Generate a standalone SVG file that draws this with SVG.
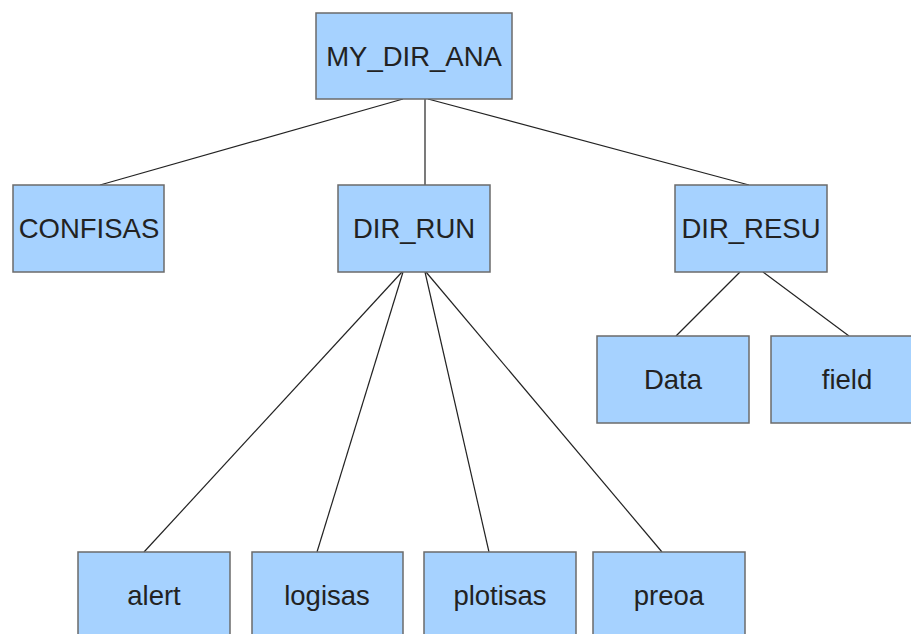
<svg xmlns="http://www.w3.org/2000/svg" width="911" height="634" viewBox="0 0 911 634">
<style>
.box{fill:#a6d2ff;stroke:#6b6b6b;stroke-width:1.5}
.lbl{font-family:"Liberation Sans",Arial,sans-serif;font-size:27.5px;fill:#222;text-anchor:middle}
.con{stroke:#222;stroke-width:1.2;fill:none}
</style>
<rect width="911" height="634" fill="#fff"/>
<g id="connectors">
<line class="con" x1="403" y1="99" x2="100" y2="185"/>
<line class="con" x1="425" y1="99" x2="425" y2="185"/>
<line class="con" x1="428" y1="99" x2="749" y2="185"/>
<line class="con" x1="402" y1="272" x2="144" y2="552"/>
<line class="con" x1="403" y1="272" x2="317" y2="552"/>
<line class="con" x1="425" y1="272" x2="489" y2="552"/>
<line class="con" x1="426" y1="272" x2="662" y2="552"/>
<line class="con" x1="740" y1="272" x2="676" y2="336"/>
<line class="con" x1="763" y1="272" x2="849" y2="336"/>
</g>
<g id="n-my_dir_ana"><rect class="box" x="316" y="13" width="196" height="86"/><text class="lbl" x="414" y="66">MY_DIR_ANA</text></g>
<g id="n-confisas"><rect class="box" x="13" y="185" width="151" height="87"/><text class="lbl" x="89" y="238">CONFISAS</text></g>
<g id="n-dir_run"><rect class="box" x="338" y="185" width="152" height="87"/><text class="lbl" x="414" y="238">DIR_RUN</text></g>
<g id="n-dir_resu"><rect class="box" x="675" y="185" width="152" height="87"/><text class="lbl" x="751" y="238">DIR_RESU</text></g>
<g id="n-data"><rect class="box" x="597" y="336" width="152" height="87"/><text class="lbl" x="673" y="389">Data</text></g>
<g id="n-field"><rect class="box" x="771" y="336" width="152" height="87"/><text class="lbl" x="847" y="389">field</text></g>
<g id="n-alert"><rect class="box" x="78" y="552" width="152" height="87"/><text class="lbl" x="154" y="605">alert</text></g>
<g id="n-logisas"><rect class="box" x="252" y="552" width="151" height="87"/><text class="lbl" x="327" y="605">logisas</text></g>
<g id="n-plotisas"><rect class="box" x="424" y="552" width="152" height="87"/><text class="lbl" x="500" y="605">plotisas</text></g>
<g id="n-preoa"><rect class="box" x="593" y="552" width="152" height="87"/><text class="lbl" x="669" y="605">preoa</text></g>
</svg>
